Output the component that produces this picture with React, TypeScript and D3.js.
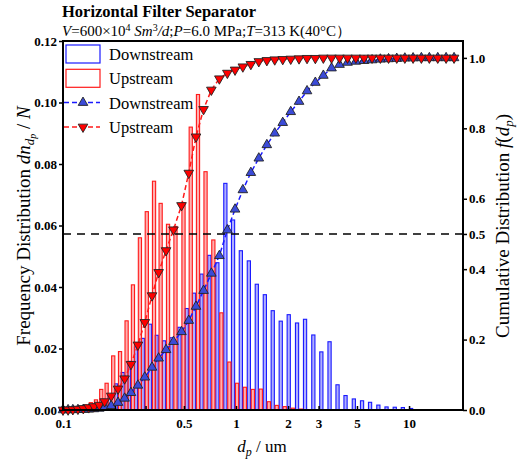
import React, { useEffect, useRef } from 'react';
import * as d3 from 'd3';

// particle size bins (um)
const diameters = [
  0.100, 0.107, 0.114, 0.122, 0.131, 0.141, 0.151, 0.162, 0.174, 0.190,
  0.208, 0.227, 0.247, 0.271, 0.297, 0.327, 0.357, 0.394, 0.435, 0.484,
  0.533, 0.587, 0.649, 0.720, 0.801, 0.891, 0.987, 1.095, 1.218, 1.354,
  1.507, 1.674, 1.862, 2.071, 2.313, 2.573, 2.873, 3.196, 3.565, 3.965,
  4.410, 4.926, 5.493, 6.112, 6.826, 7.611, 8.490, 9.456, 10.55, 11.78,
  13.10, 14.65, 16.37, 18.20
];

// frequency distribution dn/N
const downFreq = [
  0.0001, 0.0001, 0.0002, 0.0003, 0.0005, 0.0008, 0.0012, 0.0018, 0.0035, 0.0048,
  0.0085, 0.0122, 0.0158, 0.0205, 0.0233, 0.0279, 0.0243, 0.0225, 0.0235, 0.0269,
  0.0330, 0.0380, 0.0442, 0.0503, 0.0479, 0.0737, 0.0618, 0.0518, 0.0485, 0.0409,
  0.0375, 0.0323, 0.0289, 0.0310, 0.0283, 0.0295, 0.0244, 0.0189, 0.0222, 0.0082,
  0.0047, 0.0036, 0.0030, 0.0025, 0.0016, 0.0010, 0.0009, 0.0008, 0.0005, 0,
  0, 0, 0, 0
];
const upFreq = [
  0.0003, 0.0005, 0.0008, 0.0012, 0.0017, 0.0024, 0.0033, 0.0067, 0.0087, 0.0176,
  0.0190, 0.0290, 0.0407, 0.0560, 0.0645, 0.0744, 0.0672, 0.0604, 0.0597, 0.0674,
  0.0920, 0.1026, 0.0775, 0.0553, 0.0316, 0.0156, 0.0087, 0.0074, 0.0067, 0.0068,
  0.0027, 0.0015, 0.0011, 0.0006, 0.0003, 0, 0, 0, 0, 0,
  0, 0, 0, 0, 0, 0, 0, 0, 0, 0,
  0, 0, 0, 0
];

// cumulative distribution f(dp)
const downCum = [
  0.0001, 0.0002, 0.0004, 0.0007, 0.0012, 0.002, 0.003, 0.0045, 0.0077, 0.012,
  0.021, 0.033, 0.049, 0.070, 0.093, 0.121, 0.147, 0.171, 0.194, 0.222,
  0.254, 0.294, 0.339, 0.388, 0.438, 0.511, 0.570, 0.625, 0.674, 0.715,
  0.753, 0.786, 0.816, 0.847, 0.876, 0.906, 0.930, 0.950, 0.971, 0.981,
  0.987, 0.990, 0.992, 0.994, 0.996, 0.997, 0.998, 0.999, 0.9995, 1.0,
  1.0, 1.0, 1.0, 1.0
];
const upCum = [
  0.0003, 0.0008, 0.0016, 0.0028, 0.0045, 0.007, 0.010, 0.014, 0.024, 0.040,
  0.060, 0.089, 0.130, 0.185, 0.249, 0.325, 0.391, 0.453, 0.512, 0.581,
  0.673, 0.776, 0.854, 0.909, 0.941, 0.957, 0.966, 0.975, 0.982, 0.990,
  0.993, 0.995, 0.996, 0.997, 0.998, 0.999, 0.999, 1.0, 1.0, 1.0,
  1.0, 1.0, 1.0, 1.0, 1.0, 1.0, 1.0, 1.0, 1.0, 1.0,
  1.0, 1.0, 1.0, 1.0
];

const xTicks = [0.1, 0.5, 1, 2, 3, 5, 10];
const xMinorTicks = [0.2, 0.3];
const leftTicks = [0, 0.02, 0.04, 0.06, 0.08, 0.1, 0.12];
const rightTicks = [0, 0.2, 0.4, 0.5, 0.6, 0.8, 1.0];
const halfLevel = 0.5;

const W = 518;
const H = 464;
const margin = { top: 41, right: 55, bottom: 54, left: 63 };
const serif = '"Liberation Serif", "Times New Roman", serif';

export default function App() {
  const ref = useRef<SVGSVGElement>(null);

  useEffect(() => {
    const svg = d3.select(ref.current);
    svg.selectAll('*').remove();
    svg.attr('font-family', serif);

    const x = d3.scaleLog().domain([0.1, 20.5]).range([margin.left, W - margin.right]);
    const y = d3.scaleLinear().domain([0, 0.12]).range([H - margin.bottom, margin.top]);
    const y2 = d3.scaleLinear().domain([0, 1.048]).range([H - margin.bottom, margin.top]);

    const barW = 3.2;
    const off = 2;

    // histogram bars
    const down = diameters.map((d, i) => ({ d, v: downFreq[i] })).filter(p => p.v > 0);
    const up = diameters.map((d, i) => ({ d, v: upFreq[i] })).filter(p => p.v > 0);

    svg.append('g').selectAll('rect').data(down).enter().append('rect')
      .attr('x', p => x(p.d) - off - barW / 2)
      .attr('y', p => y(p.v))
      .attr('width', barW)
      .attr('height', p => y(0) - y(p.v))
      .attr('fill', 'rgba(110,110,255,0.55)')
      .attr('stroke', '#1a1aff')
      .attr('stroke-width', 1.1);

    svg.append('g').selectAll('rect').data(up).enter().append('rect')
      .attr('x', p => x(p.d) + off - barW / 2)
      .attr('y', p => y(p.v))
      .attr('width', barW)
      .attr('height', p => y(0) - y(p.v))
      .attr('fill', 'rgba(255,110,110,0.55)')
      .attr('stroke', '#ff1a1a')
      .attr('stroke-width', 1.1);

    // 0.5 reference line
    svg.append('line')
      .attr('x1', margin.left).attr('x2', W - margin.right)
      .attr('y1', y2(halfLevel)).attr('y2', y2(halfLevel))
      .attr('stroke', '#000').attr('stroke-width', 1.6)
      .attr('stroke-dasharray', '8,6');

    // cumulative curves
    const line = d3.line<number>()
      .x((_, i) => x(diameters[i]))
      .y(v => y2(v));

    const tri = d3.symbol().type(d3.symbolTriangle).size(40)();

    const drawCum = (vals: number[], color: string, fill: string, flip: boolean) => {
      svg.append('path')
        .datum(vals)
        .attr('fill', 'none')
        .attr('stroke', color)
        .attr('stroke-width', 1.5)
        .attr('stroke-dasharray', '5,3')
        .attr('d', line);
      svg.append('g').selectAll('path').data(vals).enter().append('path')
        .attr('d', tri)
        .attr('transform', (v, i) => `translate(${x(diameters[i])},${y2(v)})` + (flip ? ' rotate(180)' : ''))
        .attr('fill', fill)
        .attr('stroke', '#222')
        .attr('stroke-width', 0.9);
    };
    drawCum(downCum, '#1a1aff', '#3b4bd8', false);
    drawCum(upCum, '#ff1a1a', '#ff0000', true);

    // frame
    svg.append('rect')
      .attr('x', margin.left).attr('y', margin.top)
      .attr('width', W - margin.left - margin.right)
      .attr('height', H - margin.top - margin.bottom)
      .attr('fill', 'none').attr('stroke', '#000').attr('stroke-width', 2);

    // axes
    const styleAxis = (g: any) => {
      g.select('.domain').remove();
      g.selectAll('line').attr('stroke', '#000').attr('stroke-width', 1.5);
      g.selectAll('text').attr('font-family', serif).attr('font-size', 13)
        .attr('font-weight', 'bold').attr('fill', '#000');
    };

    svg.append('g')
      .attr('transform', `translate(${margin.left},0)`)
      .call(d3.axisLeft(y).tickValues(leftTicks).tickFormat(d3.format('.2f')).tickSize(4).tickPadding(2))
      .call(styleAxis);

    svg.append('g')
      .attr('transform', `translate(${W - margin.right},0)`)
      .call(d3.axisRight(y2).tickValues(rightTicks).tickFormat(d3.format('.1f')).tickSize(4).tickPadding(2))
      .call(styleAxis);

    svg.append('g')
      .attr('transform', `translate(0,${H - margin.bottom})`)
      .call(d3.axisBottom(x).tickValues(xTicks).tickFormat(d3.format('~g')).tickSize(-4).tickPadding(9))
      .call(styleAxis);

    svg.append('g')
      .attr('transform', `translate(0,${H - margin.bottom})`)
      .call(d3.axisBottom(x).tickValues(xMinorTicks).tickFormat(() => '').tickSize(-4))
      .call(styleAxis);

    // titles
    svg.append('text').attr('x', 62).attr('y', 17)
      .attr('font-size', 16.5).attr('font-weight', 'bold').text('Horizontal Filter Separator');

    const sub = svg.append('text').attr('x', 62).attr('y', 36).attr('font-size', 15);
    sub.append('tspan').attr('font-style', 'italic').text('V');
    sub.append('tspan').text('=600×10');
    sub.append('tspan').attr('font-size', 10).attr('dy', -5).text('4');
    sub.append('tspan').attr('dy', 5).text(' ');
    sub.append('tspan').attr('font-style', 'italic').text('Sm');
    sub.append('tspan').attr('font-size', 10).attr('dy', -5).text('3');
    sub.append('tspan').attr('dy', 5).attr('font-style', 'italic').text('/d');
    sub.append('tspan').text(';');
    sub.append('tspan').attr('font-style', 'italic').text('P');
    sub.append('tspan').text('=6.0 MPa;');
    sub.append('tspan').attr('font-style', 'italic').text('T');
    sub.append('tspan').text('=313 K(40°C）');

    // x label
    const xl = svg.append('text').attr('x', 262).attr('y', 452)
      .attr('font-size', 17).attr('text-anchor', 'middle');
    xl.append('tspan').attr('font-style', 'italic').text('d');
    xl.append('tspan').attr('font-style', 'italic').attr('font-size', 12).attr('dy', 4).text('p');
    xl.append('tspan').attr('dy', -4).text(' / um');

    // left label
    const yl = svg.append('text')
      .attr('transform', 'translate(30,226) rotate(-90)')
      .attr('font-size', 19).attr('text-anchor', 'middle');
    yl.append('tspan').text('Frequency Distribution ');
    yl.append('tspan').attr('font-style', 'italic').text('dn');
    yl.append('tspan').attr('font-style', 'italic').attr('font-size', 13).attr('dy', 4).text('d');
    yl.append('tspan').attr('font-style', 'italic').attr('font-size', 10).attr('dy', 2).text('p');
    yl.append('tspan').attr('dy', -6).text(' / ');
    yl.append('tspan').attr('font-style', 'italic').text('N');

    // right label
    const yr = svg.append('text')
      .attr('transform', 'translate(509,226) rotate(-90)')
      .attr('font-size', 19).attr('text-anchor', 'middle');
    yr.append('tspan').text('Cumulative Distribution ');
    yr.append('tspan').attr('font-style', 'italic').text('f');
    yr.append('tspan').text('(');
    yr.append('tspan').attr('font-style', 'italic').text('d');
    yr.append('tspan').attr('font-style', 'italic').attr('font-size', 13).attr('dy', 4).text('p');
    yr.append('tspan').attr('dy', -4).text(')');

    // legend
    const lg = svg.append('g').attr('font-size', 16.5);
    const rows = [
      { kind: 'bar', color: '#1a1aff', label: 'Downstream' },
      { kind: 'bar', color: '#ff1a1a', label: 'Upstream' },
      { kind: 'line', color: '#1a1aff', fill: '#3b4bd8', flip: false, label: 'Downstream' },
      { kind: 'line', color: '#ff1a1a', fill: '#ff0000', flip: true, label: 'Upstream' }
    ];
    rows.forEach((r, i) => {
      const cy = 54 + i * 24.3;
      if (r.kind === 'bar') {
        lg.append('rect').attr('x', 66).attr('y', cy - 9).attr('width', 34).attr('height', 18)
          .attr('fill', '#fff').attr('stroke', r.color).attr('stroke-width', 1.2);
      } else {
        lg.append('line').attr('x1', 64).attr('x2', 100).attr('y1', cy).attr('y2', cy)
          .attr('stroke', r.color).attr('stroke-width', 1.5).attr('stroke-dasharray', '5,3');
        lg.append('path').attr('d', tri)
          .attr('transform', `translate(83,${cy})` + (r.flip ? ' rotate(180)' : ''))
          .attr('fill', r.fill as string).attr('stroke', '#222').attr('stroke-width', 0.9);
      }
      lg.append('text').attr('x', 109).attr('y', cy + 6).text(r.label);
    });
  }, []);

  return (
    <svg
      ref={ref}
      width={W}
      height={H}
      style={{ position: 'absolute', left: 0, top: 0, background: '#fff' }}
    />
  );
}
